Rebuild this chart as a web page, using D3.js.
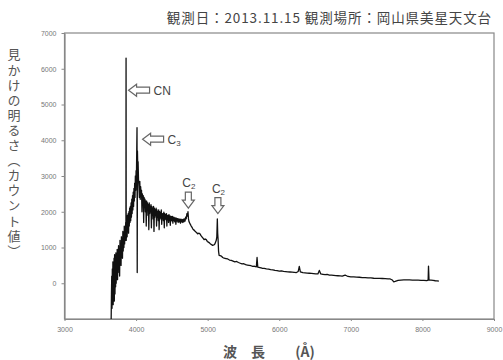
<!DOCTYPE html>
<html>
<head>
<meta charset="utf-8">
<script src="https://cdn.jsdelivr.net/npm/d3@7"></script>
<style>
  body { margin: 0; background: #fff; }
  svg { display: block; }
  .tick text { font-family: "Liberation Sans", Arial, sans-serif; font-size: 7px; fill: #777; }
  .tick line, .domain { stroke: #888; }
</style>
</head>
<body>
<svg></svg>
<script>
var width = 503;
var height = 360;
var margin = {top: 33, right: 9, bottom: 41, left: 64.5};

var title = "観測日：2013.11.15 観測場所：岡山県美星天文台";
var yLabel = "見かけの明るさ（カウント値）";
var xTicks = [3000, 4000, 5000, 6000, 7000, 8000, 9000];
var yTicks = [0, 1000, 2000, 3000, 4000, 5000, 6000, 7000];

// wavelength (Å) and counts
var wavelength = [
  3652, 3656, 3660, 3664, 3668, 3672, 3676, 3680, 3684, 3688, 3692, 3696, 3700, 3705,
  3710, 3714, 3718, 3722, 3727, 3732, 3736, 3741, 3746, 3750, 3755, 3760, 3765, 3770,
  3775, 3780, 3785, 3790, 3795, 3800, 3805, 3810, 3815, 3820, 3825, 3830, 3835, 3840,
  3845, 3850, 3855, 3858, 3860, 3862, 3866, 3870, 3875, 3880, 3885, 3890, 3895, 3900,
  3905, 3910, 3915, 3920, 3925, 3930, 3935, 3940, 3945, 3950, 3955, 3960, 3965, 3970,
  3975, 3980, 3985, 3990, 3995, 4000, 4005, 4010, 4013, 4016, 4019, 4024, 4028, 4034,
  4040, 4046, 4052, 4058, 4064, 4070, 4076, 4082, 4088, 4094, 4100, 4106, 4112, 4118,
  4124, 4130, 4136, 4142, 4148, 4154, 4160, 4166, 4172, 4178, 4184, 4190, 4196, 4202,
  4208, 4214, 4220, 4226, 4232, 4238, 4244, 4250, 4256, 4262, 4268, 4274, 4280, 4286,
  4292, 4298, 4304, 4310, 4316, 4322, 4328, 4334, 4340, 4346, 4352, 4358, 4364, 4370,
  4376, 4382, 4388, 4394, 4400, 4406, 4412, 4418, 4424, 4430, 4436, 4442, 4448, 4454,
  4460, 4466, 4472, 4478, 4484, 4490, 4496, 4502, 4508, 4514, 4520, 4526, 4532, 4540,
  4548, 4556, 4564, 4572, 4580, 4588, 4596, 4604, 4612, 4620, 4628, 4636, 4644, 4652,
  4660, 4668, 4676, 4684, 4692, 4700, 4710, 4718, 4725, 4732, 4740, 4750, 4760, 4770,
  4780, 4790, 4800, 4815, 4830, 4845, 4860, 4875, 4890, 4905, 4920, 4935, 4950, 4965,
  4980, 4995, 5010, 5025, 5040, 5055, 5070, 5085, 5100, 5110, 5120, 5128, 5135, 5140,
  5145, 5152, 5160, 5175, 5190, 5210, 5230, 5255, 5280, 5305, 5330, 5355, 5380, 5405,
  5430, 5455, 5480, 5505, 5530, 5555, 5580, 5605, 5630, 5655, 5680, 5690, 5700, 5730,
  5760, 5790, 5820, 5850, 5880, 5910, 5940, 5970, 6000, 6030, 6060, 6090, 6120, 6150,
  6180, 6210, 6240, 6265, 6280, 6295, 6330, 6360, 6390, 6420, 6450, 6480, 6510, 6540,
  6560, 6580, 6610, 6640, 6670, 6700, 6730, 6760, 6790, 6820, 6850, 6880, 6920, 6960,
  7000, 7040, 7080, 7120, 7160, 7200, 7240, 7280, 7320, 7360, 7400, 7440, 7480, 7520,
  7550, 7580, 7600, 7620, 7660, 7700, 7740, 7780, 7820, 7860, 7900, 7940, 7980, 8020,
  8060, 8080, 8085, 8092, 8120, 8150, 8180, 8205, 8230
];
var counts = [
  -1000, -300, 200, -700, 400, -400, 600, -600, 300, -200, 700, -500, 800, -300,
  500, -100, 850, 0, 600, 200, 950, 100, 700, 300, 1050, 400, 900, 200,
  1200, 600, 1100, 500, 1300, 800, 1250, 700, 1450, 900, 1350, 1000, 1600, 1100,
  1500, 1200, 1700, 1300, 6300, 1200, 1400, 1800, 1300, 1900, 1450, 1950, 1400, 2000,
  1600, 2100, 1700, 2150, 1750, 2250, 1850, 2350, 1950, 2450, 2050, 2550, 2150, 2650,
  2300, 2800, 2400, 3000, 2600, 3150, 3000, 3850, 4350, 300, 3700, 3200, 3400, 2900,
  2700, 2400, 2850, 2350, 2700, 2450, 2600, 2000, 2500, 2250, 2450, 1700, 2400, 2150,
  2350, 2000, 2300, 1600, 2300, 2050, 2250, 1900, 2200, 1500, 2250, 1950, 2150, 2000,
  2200, 1550, 2150, 1900, 2100, 1800, 2150, 1450, 2100, 1850, 2050, 1900, 2100, 1600,
  2050, 1850, 2000, 1750, 2050, 1500, 2000, 1850, 1980, 1800, 2050, 1650, 1950, 1800,
  1950, 1750, 1990, 1550, 1950, 1800, 1920, 1780, 1950, 1600, 1900, 1780, 1900, 1700,
  1920, 1750, 1880, 1620, 1880, 1760, 1860, 1740, 1870, 1680, 1850, 1750, 1840, 1720,
  1830, 1650, 1820, 1740, 1810, 1700, 1800, 1720, 1790, 1680, 1790, 1720, 1780, 1700,
  1790, 1720, 1800, 1740, 1850, 1800, 1950, 1880, 2000, 1800, 1720, 1680, 1640, 1600,
  1570, 1530, 1500, 1480, 1440, 1420, 1380, 1400, 1390, 1340, 1300, 1260, 1220, 1240,
  1220, 1170, 1150, 1130, 1100, 1080, 1060, 1070, 1100, 1150, 1200, 1300, 1800, 1400,
  1250, 900, 780, 770, 760, 720, 700, 690, 680, 650, 640, 620, 600, 610,
  580, 560, 540, 545, 520, 510, 500, 490, 470, 475, 460, 720, 450, 440,
  420, 415, 400, 395, 380, 375, 360, 355, 340, 345, 330, 325, 320, 315,
  310, 305, 300, 330, 470, 320, 295, 290, 285, 280, 275, 270, 265, 260,
  360, 260, 250, 240, 245, 230, 225, 220, 215, 210, 205, 200, 230, 190,
  180, 178, 170, 168, 160, 158, 150, 148, 140, 138, 135, 133, 130, 125,
  120, 90, 40, 50, 80, 90, 92, 95, 93, 90, 88, 85, 82, 80,
  75, 90, 480, 90, 85, 80, 70, 68, 60
];

// line labels: name, subscript, wavelength and count where the arrow tip sits
var lineNames = ["CN", "C", "C", "C"];
var lineSubs = ["", "3", "2", "2"];
var lineWave = [3895, 4091, 4730, 5143];
var lineCount = [5400, 4030, 2100, 1950];
var lineDir = ["left", "left", "down", "down"];

var svg = d3.select('svg')
  .attr('width', width)
  .attr('height', height);

var x = d3.scaleLinear()
  .domain([3000, 9000])
  .range([margin.left, width - margin.right]);

var y = d3.scaleLinear()
  .domain([-1000, 7000])
  .range([height - margin.bottom, margin.top]);

// frame
svg.append('rect')
  .attr('x', margin.left)
  .attr('y', margin.top)
  .attr('width', width - margin.right - margin.left)
  .attr('height', height - margin.bottom - margin.top)
  .attr('fill', 'none')
  .attr('stroke', '#888')
  .attr('stroke-width', 1.2);

svg.append('g')
  .attr('transform', 'translate(0,' + (height - margin.bottom) + ')')
  .call(d3.axisBottom(x).tickValues(xTicks).tickFormat(d3.format('d'))
    .tickSize(2).tickPadding(6).tickSizeOuter(0))
  .call(g => g.select('.domain').attr('stroke-width', 1.2));

svg.append('g')
  .attr('transform', 'translate(' + margin.left + ',0)')
  .call(d3.axisLeft(y).tickValues(yTicks).tickFormat(d3.format('d'))
    .tickSize(3).tickPadding(5).tickSizeOuter(0))
  .call(g => g.select('.domain').attr('stroke-width', 1.2));

// spectrum
var data = wavelength.map((w, i) => ({w: w, c: counts[i]}));

svg.append('path')
  .datum(data)
  .attr('fill', 'none')
  .attr('stroke', '#111')
  .attr('stroke-width', 1.3)
  .attr('stroke-linejoin', 'round')
  .attr('d', d3.line().x(d => x(d.w)).y(d => y(d.c)));

// hollow arrows + labels
var jp = '"Noto Sans CJK JP", "Noto Sans", sans-serif';

lineNames.forEach((name, i) => {
  var tx = x(lineWave[i]);
  var ty = y(lineCount[i]);
  var p = d3.path();
  var t;
  if (lineDir[i] === 'left') {
    p.moveTo(tx, ty);
    p.lineTo(tx + 8, ty - 6);
    p.lineTo(tx + 8, ty - 3);
    p.lineTo(tx + 21, ty - 3);
    p.lineTo(tx + 21, ty + 3);
    p.lineTo(tx + 8, ty + 3);
    p.lineTo(tx + 8, ty + 6);
    p.closePath();
    t = svg.append('text')
      .attr('x', tx + 25)
      .attr('y', ty + 4.5);
  } else {
    p.moveTo(tx, ty);
    p.lineTo(tx - 6, ty - 8);
    p.lineTo(tx - 3, ty - 8);
    p.lineTo(tx - 3, ty - 16);
    p.lineTo(tx + 3, ty - 16);
    p.lineTo(tx + 3, ty - 8);
    p.lineTo(tx + 6, ty - 8);
    p.closePath();
    t = svg.append('text')
      .attr('x', tx - 6)
      .attr('y', ty - 21);
  }
  svg.append('path')
    .attr('d', p.toString())
    .attr('fill', '#fff')
    .attr('stroke', '#666')
    .attr('stroke-width', 1.2);
  t.attr('font-family', '"Liberation Sans", Arial, sans-serif')
    .attr('font-size', 12)
    .attr('fill', '#444')
    .text(name);
  if (lineSubs[i]) {
    t.append('tspan')
      .attr('font-size', 8)
      .attr('dy', 2)
      .text(lineSubs[i]);
  }
});

// title
svg.append('text')
  .attr('x', 492)
  .attr('y', 23)
  .attr('text-anchor', 'end')
  .attr('font-family', jp)
  .attr('font-size', 13.5)
  .attr('letter-spacing', 0.9)
  .attr('fill', '#444')
  .text(title);

// y label (vertical)
svg.append('text')
  .attr('x', 14)
  .attr('y', 48)
  .attr('font-family', jp)
  .attr('font-size', 13)
  .attr('letter-spacing', 2.1)
  .attr('fill', '#555')
  .style('writing-mode', 'vertical-rl')
  .style('text-orientation', 'upright')
  .text(yLabel);

// x label
var xLabelParts = ['波', '長', '(Å)'];
var xLabelPos = [230, 258, 305];
xLabelParts.forEach((s, i) => {
  svg.append('text')
    .attr('x', xLabelPos[i])
    .attr('y', 357)
    .attr('font-family', jp)
    .attr('font-size', 14)
    .attr('font-weight', 'bold')
    .attr('fill', '#555')
    .attr('text-anchor', 'middle')
    .text(s);
});
</script>
</body>
</html>
